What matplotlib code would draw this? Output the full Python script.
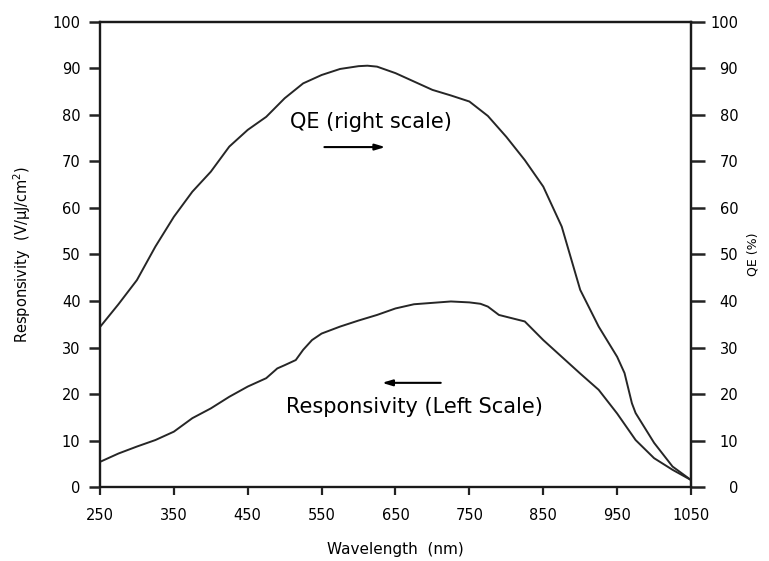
import matplotlib
matplotlib.use("Agg")
import matplotlib.pyplot as plt

plt.rcParams['font.family'] = ['DejaVu Sans']

# Data
qe_wl = [250, 275, 300, 325, 350, 375, 400, 425, 450, 475, 500, 525, 550, 575, 600,
         612, 625, 650, 675, 700, 725, 750, 775, 800, 825, 850, 875, 900, 925, 950,
         960, 970, 975, 1000, 1025, 1050]
qe_val = [34.4, 39.3, 44.5, 51.7, 58.1, 63.5, 67.8, 73.2, 76.8, 79.6, 83.6, 86.8, 88.6, 89.9, 90.5,
          90.6, 90.4, 89.0, 87.2, 85.4, 84.2, 82.9, 79.8, 75.3, 70.3, 64.6, 56.0, 42.4, 34.5, 28.0,
          24.5, 18.0, 15.9, 9.5, 4.4, 1.5]

resp_wl = [250, 275, 300, 325, 350, 375, 400, 425, 450, 475, 490, 500, 515, 525, 537,
           550, 575, 600, 625, 650, 675, 700, 725, 750, 765, 775, 790, 800, 825, 850,
           875, 900, 925, 950, 975, 1000, 1025, 1050]
resp_val = [5.4, 7.2, 8.7, 10.1, 11.9, 14.8, 16.9, 19.4, 21.6, 23.4, 25.5, 26.2, 27.3, 29.5, 31.6,
            33.0, 34.5, 35.8, 37.0, 38.4, 39.3, 39.6, 39.9, 39.7, 39.4, 38.8, 37.0, 36.6, 35.6, 31.6,
            28.0, 24.4, 20.9, 15.8, 10.1, 6.2, 3.7, 1.5]

x_ticks = [250, 350, 450, 550, 650, 750, 850, 950, 1050]
y_ticks = [0, 10, 20, 30, 40, 50, 60, 70, 80, 90, 100]

fig = plt.figure(figsize=(7.69, 5.61), dpi=100)
ax = fig.add_axes([0.130, 0.1319, 0.7686, 0.8289])
ax2 = ax.twinx()

line_col = '#262626'
ax.plot(resp_wl, resp_val, color=line_col, lw=1.4)
ax2.plot(qe_wl, qe_val, color=line_col, lw=1.4)

for a in (ax, ax2):
    a.set_xlim(250, 1050)
    a.set_ylim(0, 100)
    a.set_yticks(y_ticks)
    for s in a.spines.values():
        s.set_linewidth(1.6)
        s.set_color('#1a1a1a')

ax.spines['left'].set_color('#555555')
ax.spines['bottom'].set_color('#777777')
ax.set_xticks(x_ticks)
ax.tick_params(axis='x', direction='out', length=6, width=1.6, pad=9, labelsize=10.5, color='#222')
ax.tick_params(axis='y', direction='out', length=8, width=1.8, pad=6, labelsize=10.5, color='#222')
ax2.tick_params(axis='y', direction='out', length=10, width=1.8, pad=24, labelsize=10.5, color='#222')
for lab in ax2.get_yticklabels():
    lab.set_ha('right')

ax.set_xlabel('Wavelength  (nm)', fontsize=11, labelpad=14)
ax.set_ylabel('Responsivity  (V/\u03bcJ/cm$^2$)', fontsize=10.5, labelpad=14)
ax2.set_ylabel('QE (%)', fontsize=9, labelpad=6, rotation=90)

ax2.text(617, 78.5, 'QE (right scale)', fontsize=15, ha='center', va='center')
ax2.annotate('', xy=(640, 73.1), xytext=(550, 73.1),
             arrowprops=dict(arrowstyle='-|>,head_length=0.6,head_width=0.18', color='black', lw=1.5))
ax.text(675, 17.2, 'Responsivity (Left Scale)', fontsize=15, ha='center', va='center')
ax.annotate('', xy=(628, 22.4), xytext=(715, 22.4),
            arrowprops=dict(arrowstyle='-|>,head_length=0.6,head_width=0.18', color='black', lw=1.5))

fig.savefig('out.png', dpi=100)
